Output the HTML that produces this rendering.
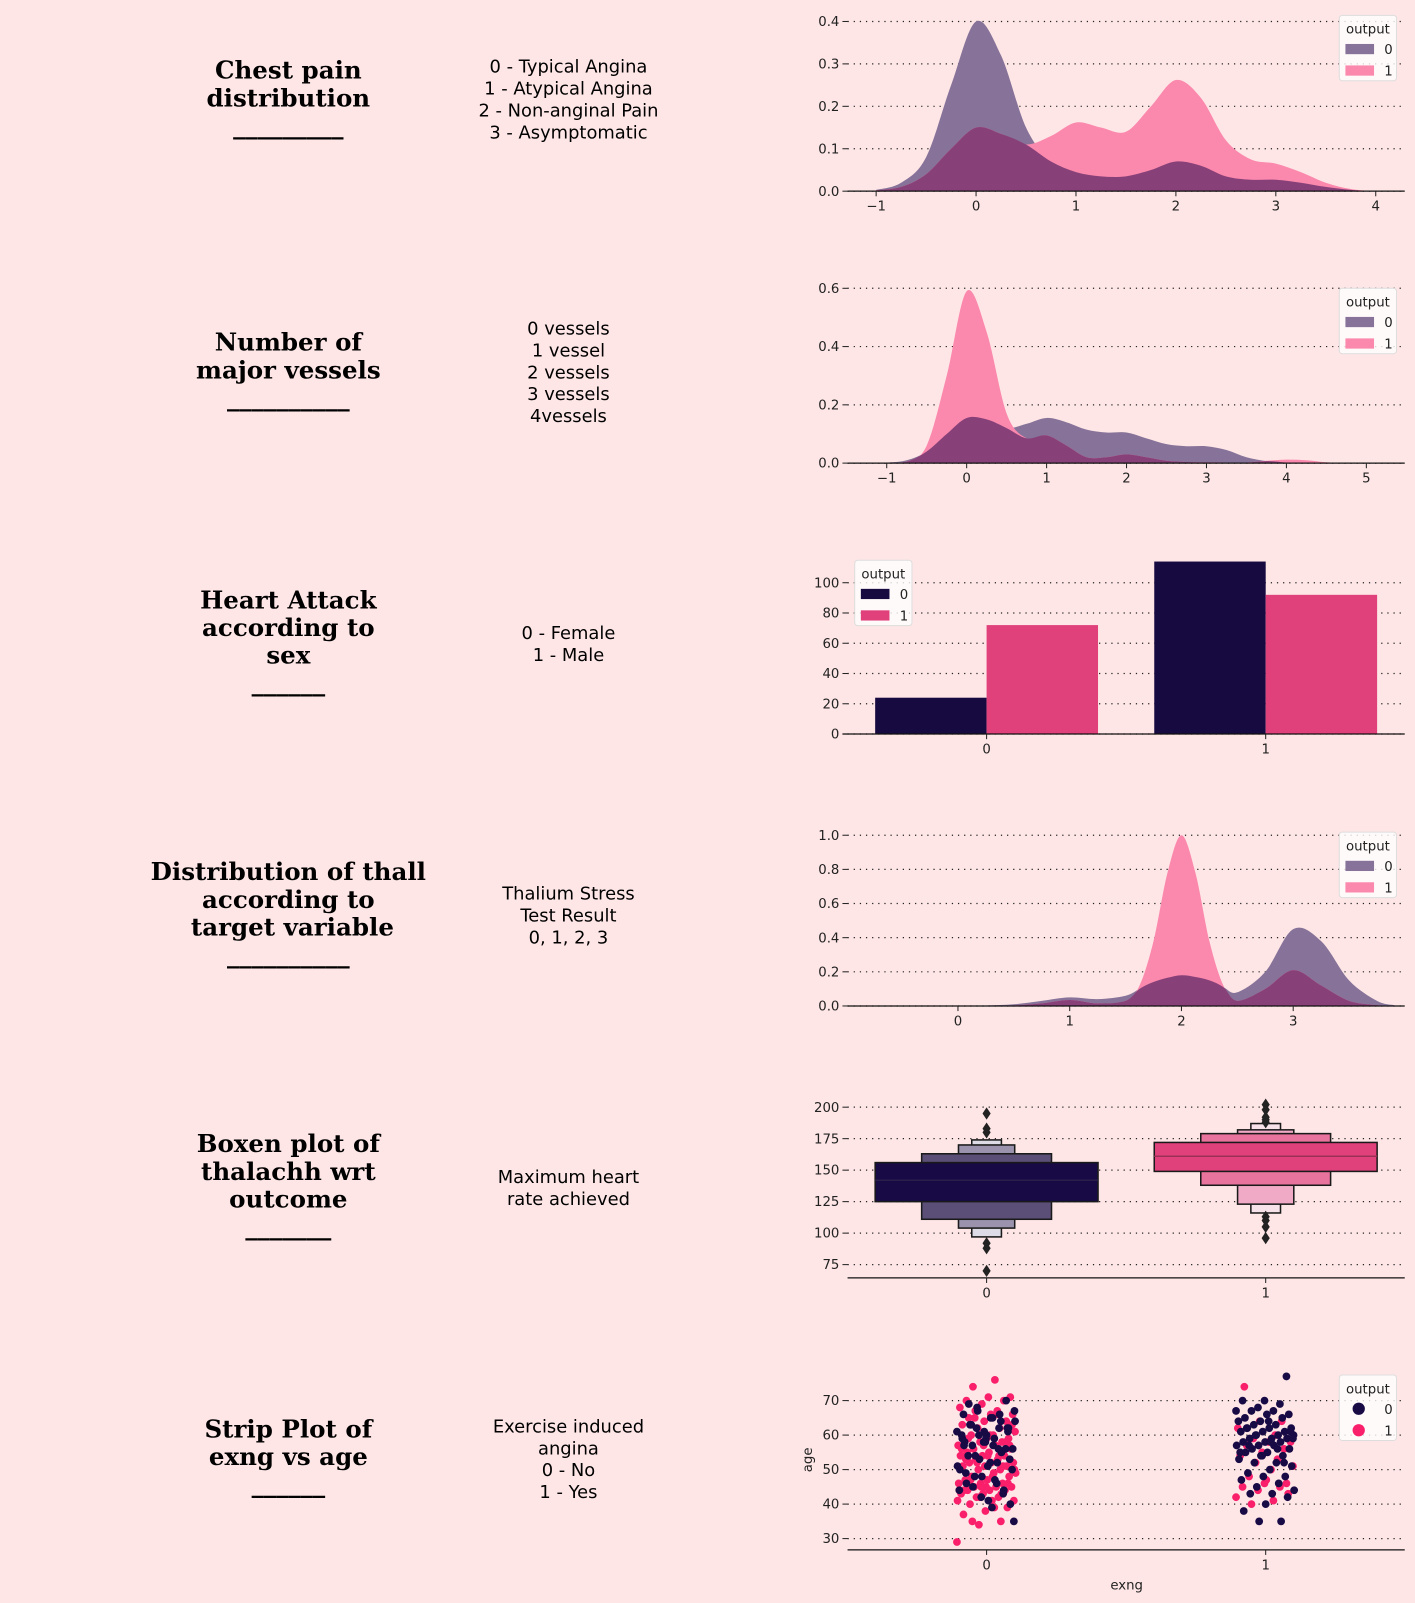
<!DOCTYPE html>
<html><head><meta charset="utf-8"><style>
html,body{margin:0;padding:0;background:#fee6e6;}
svg{display:block;}
.t{font-family:"DejaVu Serif","Liberation Serif",serif;font-weight:bold;font-size:24px;fill:#000;}
.d{font-family:"DejaVu Sans","Liberation Sans",sans-serif;font-size:17.5px;fill:#000;}
.tk{font-family:"DejaVu Sans","Liberation Sans",sans-serif;font-size:13px;fill:#222;}
</style></head><body>
<svg id="root" width="1415" height="1603" viewBox="0 0 1384 1568" xmlns="http://www.w3.org/2000/svg">
<rect width="1384" height="1568" fill="#fee6e6"/>
<g text-anchor="middle">
<text class="t" x="282" y="77">Chest pain<tspan x="282" dy="27">distribution</tspan><tspan x="282" dy="27">_________</tspan></text>
<text class="d" x="556" y="71">0 - Typical Angina<tspan x="556" dy="21.5">1 - Atypical Angina</tspan><tspan x="556" dy="21.5">2 - Non-anginal Pain</tspan><tspan x="556" dy="21.5">3 - Asymptomatic</tspan></text>
<text class="t" x="282" y="343">Number of<tspan x="282" dy="27">major vessels</tspan><tspan x="282" dy="27">__________</tspan></text>
<text class="d" x="556" y="327">0 vessels<tspan x="556" dy="21.5">1 vessel</tspan><tspan x="556" dy="21.5">2 vessels</tspan><tspan x="556" dy="21.5">3 vessels</tspan><tspan x="556" dy="21.5">4vessels</tspan></text>
<text class="t" x="282" y="595">Heart Attack<tspan x="282" dy="27">according to</tspan><tspan x="282" dy="27">sex</tspan><tspan x="282" dy="27">______</tspan></text>
<text class="d" x="556" y="625">0 - Female<tspan x="556" dy="21.5">1 - Male</tspan></text>
<text class="t" x="282" y="861">Distribution of thall<tspan x="282" dy="27">according to</tspan><tspan x="286" dy="27">target variable</tspan><tspan x="282" dy="27">__________</tspan></text>
<text class="d" x="556" y="880">Thalium Stress<tspan x="556" dy="21.5">Test Result</tspan><tspan x="556" dy="21.5">0, 1, 2, 3</tspan></text>
<text class="t" x="282" y="1127">Boxen plot of<tspan x="282" dy="27">thalachh wrt</tspan><tspan x="282" dy="27">outcome</tspan><tspan x="282" dy="27">_______</tspan></text>
<text class="d" x="556" y="1157">Maximum heart<tspan x="556" dy="21.5">rate achieved</tspan></text>
<text class="t" x="282" y="1406">Strip Plot of<tspan x="282" dy="27">exng vs age</tspan><tspan x="282" dy="27">______</tspan></text>
<text class="d" x="556" y="1401">Exercise induced<tspan x="556" dy="21.5">angina</tspan><tspan x="556" dy="21.5">0 - No</tspan><tspan x="556" dy="21.5">1 - Yes</tspan></text>
</g>
<g id="charts"></g>
</svg>
<script>
// ---- data ----
const cpGrid=[-1,-0.75,-0.5,-0.25,0,0.25,0.5,0.75,1,1.25,1.5,1.75,2,2.25,2.5,2.75,3,3.25,3.5,3.75,4];
const cpOut0=[0.003,0.02,0.08,0.25,0.40,0.32,0.15,0.07,0.045,0.035,0.035,0.05,0.07,0.06,0.035,0.027,0.027,0.02,0.01,0.003,0];
const cpOut1=[0.002,0.01,0.04,0.10,0.15,0.135,0.11,0.13,0.162,0.15,0.14,0.2,0.262,0.22,0.12,0.075,0.065,0.045,0.02,0.005,0];
const cpXTicks=[-1,0,1,2,3,4]; const cpYTicks=[0,0.1,0.2,0.3,0.4];
const cpYLabels=["0.0","0.1","0.2","0.3","0.4"];

const vGrid=[-1.25,-1,-0.75,-0.5,-0.25,0,0.25,0.5,0.75,1,1.25,1.5,1.75,2,2.25,2.5,2.75,3,3.25,3.5,3.75,4,4.25,4.5,4.75,5];
const vOut0=[0,0.002,0.01,0.04,0.1,0.155,0.15,0.12,0.135,0.155,0.14,0.115,0.105,0.105,0.085,0.065,0.058,0.058,0.045,0.02,0.007,0.002,0,0,0,0];
const vOut1=[0,0,0.005,0.06,0.3,0.59,0.45,0.17,0.085,0.095,0.06,0.02,0.02,0.03,0.02,0.008,0.004,0.003,0.002,0.002,0.008,0.012,0.01,0.003,0,0];
const vXTicks=[-1,0,1,2,3,4,5]; const vYTicks=[0,0.2,0.4,0.6];
const vYLabels=["0.0","0.2","0.4","0.6"];

const sexCats=["0","1"];
const sexOut0=[24,114];
const sexOut1=[72,92];
const sexYTicks=[0,20,40,60,80,100];

const thGrid=[0,0.25,0.5,0.75,1,1.25,1.5,1.625,1.75,1.875,2,2.125,2.25,2.375,2.5,2.75,3,3.25,3.5,3.75,3.9];
const thOut0=[0.002,0.003,0.01,0.03,0.05,0.04,0.06,0.1,0.14,0.165,0.18,0.17,0.15,0.11,0.08,0.2,0.45,0.38,0.15,0.03,0.005];
const thOut1=[0.001,0.001,0.003,0.015,0.035,0.015,0.03,0.12,0.38,0.78,1.0,0.78,0.38,0.12,0.03,0.1,0.21,0.12,0.03,0.005,0];
const thXTicks=[0,1,2,3]; const thYTicks=[0,0.2,0.4,0.6,0.8,1.0];
const thYLabels=["0.0","0.2","0.4","0.6","0.8","1.0"];

const bx0Levels=[[125,156],[111,163],[104,170],[97,174]];
const bx1Levels=[[149,172],[138,179],[123,182],[116,187]];
const bxMedians=[142,161];
const bx0Outliers=[195,183,180,92,88,70];
const bx1Outliers=[202,198,192,190,188,113,110,105,96];
const bxYTicks=[75,100,125,150,175,200];

const ageEx0Out0=[58,60,62,63,57,64,67,66,59,61,70,69,65,56,54,52,50,48,44,46,41,40,45,47,51,53,55,57,59,61,63,65,67,68,62,60,58,56,54,52,50,48,46,44,42,43,49,51,53,57,59,61,60,64,66,58,62,63,39,35,62,56];
const ageEx0Out1=[29,34,35,37,38,39,40,41,41,42,42,43,43,44,44,44,45,45,45,46,46,46,47,47,48,48,49,49,50,50,51,51,51,52,52,52,53,53,54,54,54,55,55,56,56,57,57,58,58,58,59,59,60,60,61,62,62,63,64,64,65,66,66,67,67,68,69,70,70,71,71,74,76,41,42,43,44,45,46,47,48,50,52,54,56,57,58,59,60,63,65,66,44,45,51,53,54,57,35,39];
const ageEx1Out0=[35,35,38,40,42,43,43,44,45,46,47,48,48,49,50,51,52,52,53,54,54,55,55,56,56,57,57,57,58,58,58,59,59,59,60,60,60,61,61,61,62,62,62,63,63,64,64,65,65,66,66,67,67,67,68,69,70,70,77,57,58,59,60,56,55,54,52,62,64,61];
const ageEx1Out1=[40,41,42,44,45,45,46,46,48,50,51,52,53,54,55,56,57,58,58,59,60,62,64,64,74,47,43];
const ageYTicks=[30,40,50,60,70];

// ---- drawing ----
const NS="http://www.w3.org/2000/svg";
const root=document.getElementById('charts');
function mk(tag,attrs,parent){const e=document.createElementNS(NS,tag);for(const k in attrs)e.setAttribute(k,attrs[k]);(parent||root).appendChild(e);return e;}
function lin(d0,d1,r0,r1){return v=>r0+(v-d0)/(d1-d0)*(r1-r0);}
function smooth(pts,yBase){let d="M"+pts[0][0]+","+pts[0][1];for(let i=0;i<pts.length-1;i++){const p0=pts[Math.max(0,i-1)],p1=pts[i],p2=pts[i+1],p3=pts[Math.min(pts.length-1,i+2)];
const c1=[p1[0]+(p2[0]-p0[0])/6,Math.min(p1[1]+(p2[1]-p0[1])/6,yBase)],c2=[p2[0]-(p3[0]-p1[0])/6,Math.min(p2[1]-(p3[1]-p1[1])/6,yBase)];
d+=" C"+c1[0]+","+c1[1]+" "+c2[0]+","+c2[1]+" "+p2[0]+","+p2[1];}return d;}
function grid(g,ys,ticks,labels,y,x0,x1){ticks.forEach((t,i)=>{const yy=y(t);
const l=mk('line',{x1:x0,x2:x1,y1:yy,y2:yy,stroke:'#222','stroke-width':1.2,'stroke-dasharray':'1.2 4.8'},g);

mk('line',{x1:x0-5,x2:x0,y1:yy,y2:yy,stroke:'#222'},g);
const tx=mk('text',{x:x0-8,y:yy+4.5,'text-anchor':'end',class:'tk'},g);tx.textContent=labels?labels[i]:String(t);
});}
function xticks(g,ticks,x,y0,labels){ticks.forEach((t,i)=>{mk('line',{x1:x(t),x2:x(t),y1:y0,y2:y0+5,stroke:'#222'},g);
const tx=mk('text',{x:x(t),y:y0+19,'text-anchor':'middle',class:'tk'},g);tx.textContent=labels?labels[i]:(t<0?"\u2212"+(-t):String(t));
});}
function legend(g,x,y,kind,c0,c1){const b=mk('rect',{x:x,y:y,width:56,height:64,rx:3,fill:'#fff','fill-opacity':0.8,stroke:'#ddd'},g);

const t=mk('text',{x:x+28,y:y+18,'text-anchor':'middle',class:'tk'},g);t.textContent='output';
[[c0,'0'],[c1,'1']].forEach((c,i)=>{const yy=y+33+i*21;
if(kind==='dot')mk('circle',{cx:x+19,cy:yy,r:6,fill:c[0]},g);else mk('rect',{x:x+6,y:yy-5,width:28,height:10,fill:c[0]},g);
const l=mk('text',{x:x+44,y:yy+5,class:'tk'},g);l.textContent=c[1];
});}
function kde(name,gridX,d0,d1,xd,yd,xt,yt,yl,yBase,yTop,legX,legY){
const g=mk('g',{});
const x=lin(xd[0],xd[1],829,1374),y=lin(0,yd,yBase,yTop);
grid(g,0,yt,yl,y,829,1374);
const area=(arr,fill,nm)=>{const pts=gridX.map((v,i)=>[x(v),y(arr[i])]);let d=smooth(pts,yBase)+" L"+x(gridX[gridX.length-1])+","+yBase+" L"+x(gridX[0])+","+yBase+"Z";
const p=mk('path',{d:d,fill:fill},g);};
area(d0,'#877399','kde-output-0');area(d1,'#fb88ad','kde-output-1');
area(d0.map((v,i)=>Math.min(v,d1[i])),'#884178','kde-overlap');
mk('line',{x1:829,x2:1374,y1:yBase,y2:yBase,stroke:'#111','stroke-width':1.2},g);
xticks(g,xt,x,yBase);legend(g,legX,legY,'rect','#877399','#fb88ad');}

kde('chest-pain-kde',cpGrid,cpOut0,cpOut1,[-1.286,4.29],0.4,cpXTicks,cpYTicks,cpYLabels,187,21,1310,15);
kde('vessels-kde',vGrid,vOut0,vOut1,[-1.49,5.48],0.6,vXTicks,vYTicks,vYLabels,453,282,1310,282);
kde('thall-kde',thGrid,thOut0,thOut1,[-0.988,3.998],1.0,thXTicks,thYTicks,thYLabels,984,817,1310,814);

(function(){const g=mk('g',{});
const y=lin(0,100,718,570);const cx=[965,1238];
grid(g,0,sexYTicks,null,y,829,1374);
sexCats.forEach((c,i)=>{
const b0=mk('rect',{x:cx[i]-109,y:y(sexOut0[i]),width:109,height:718-y(sexOut0[i]),fill:'#170a40'},g);

const b1=mk('rect',{x:cx[i],y:y(sexOut1[i]),width:109,height:718-y(sexOut1[i]),fill:'#e0417b'},g);
});
mk('line',{x1:824,x2:1374,y1:718,y2:718,stroke:'#111','stroke-width':1.2},g);
xticks(g,[0,1],v=>cx[v],718,sexCats);legend(g,836,548,'rect','#170a40','#e0417b');})();

(function(){const g=mk('g',{});
const y=lin(75,200,1237,1083);const cx=[965,1238];const widths=[218,127,55,29];
grid(g,0,bxYTicks,null,y,829,1374);
const cols=[['#170a45','#5c4f77','#9b93ad','#dcdbe6'],['#e0417b','#e8739c','#f0aac5','#f8e2ea']];
[bx0Levels,bx1Levels].forEach((lv,k)=>{for(let j=lv.length-1;j>=0;j--){const w=widths[j];
const r=mk('rect',{x:cx[k]-w/2,y:y(lv[j][1]),width:w,height:y(lv[j][0])-y(lv[j][1]),fill:cols[k][j],stroke:'#1a1a1a','stroke-width':1.5},g);
}
mk('line',{x1:cx[k]-109,x2:cx[k]+109,y1:y(bxMedians[k]),y2:y(bxMedians[k]),stroke:k?'#9b2f56':'#2a1f4a','stroke-width':1.5},g);
[bx0Outliers,bx1Outliers][k].forEach(v=>{const yy=y(v);const p=mk('path',{d:`M${cx[k]},${yy-6} L${cx[k]+4},${yy} L${cx[k]},${yy+6} L${cx[k]-4},${yy}Z`,fill:'#222'},g);
});});
mk('line',{x1:829,x2:1374,y1:1250,y2:1250,stroke:'#111','stroke-width':1.2},g);
xticks(g,[0,1],v=>cx[v],1250,["0","1"]);})();

(function(){const g=mk('g',{});
const y=lin(30,70,1505,1370);const cx=[965,1238];
grid(g,0,ageYTicks,null,y,829,1374);
const sets=[[ageEx0Out1,0,'#f91f6b'],[ageEx0Out0,0,'#170a45'],[ageEx1Out1,1,'#f91f6b'],[ageEx1Out0,1,'#170a45']];
sets.forEach((s,si)=>{s[0].forEach((v,i)=>{const j=(((i*37+si*13)%100)/100-0.5)*58;
const c=mk('circle',{cx:cx[s[1]]+j,cy:y(v),r:3.8,fill:s[2]},g);});});
mk('line',{x1:829,x2:1374,y1:1516,y2:1516,stroke:'#111','stroke-width':1.2},g);
xticks(g,[0,1],v=>cx[v],1516,["0","1"]);
const xl=mk('text',{x:1102,y:1555,'text-anchor':'middle',class:'tk'},g);xl.textContent='exng';

const yl=mk('text',{x:0,y:0,'text-anchor':'middle',class:'tk',transform:'translate(794,1428) rotate(-90)'},g);yl.textContent='age';

legend(g,1310,1345,'dot','#170a45','#f91f6b');})();
</script>
</body></html>
